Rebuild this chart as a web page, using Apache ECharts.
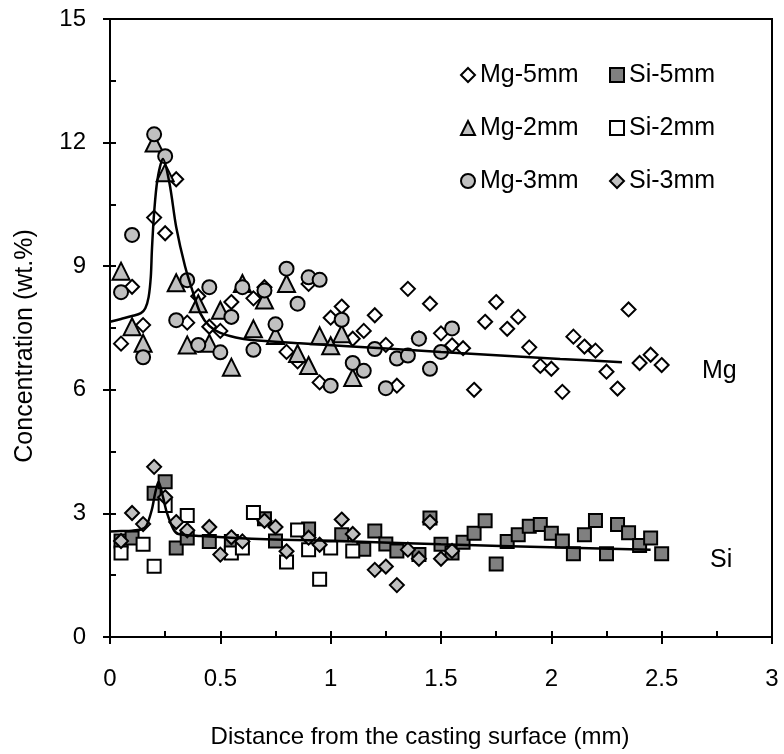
<!DOCTYPE html>
<html>
<head>
<meta charset="utf-8">
<script src="https://cdn.jsdelivr.net/npm/echarts@6/dist/echarts.min.js"></script>
<style>html,body{margin:0;padding:0;background:#fff}#c{width:784px;height:754px}</style>
</head>
<body>
<div id="c"></div>
<script>
// x ticks / y ticks
const xTicks = [0, 0.5, 1, 1.5, 2, 2.5, 3];
const yTicks = [0, 3, 6, 9, 12, 15];

// Mg series [distance mm, wt.%]
const mg5mm = [[0.05,7.12],[0.10,8.50],[0.15,7.57],[0.20,10.18],[0.25,9.80],[0.30,11.11],[0.35,7.63],[0.40,8.27],[0.45,7.53],[0.50,7.43],[0.55,8.13],[0.65,8.22],[0.70,8.49],[0.80,6.92],[0.85,6.69],[0.90,8.57],[0.95,6.18],[1.00,7.75],[1.05,8.02],[1.10,7.24],[1.15,7.43],[1.20,7.81],[1.25,7.09],[1.30,6.10],[1.35,8.45],[1.40,7.25],[1.45,8.09],[1.50,7.37],[1.55,7.08],[1.60,7.01],[1.65,6.00],[1.70,7.65],[1.75,8.13],[1.80,7.48],[1.85,7.77],[1.90,7.03],[1.95,6.58],[2.00,6.51],[2.05,5.95],[2.10,7.29],[2.15,7.05],[2.20,6.95],[2.25,6.44],[2.30,6.03],[2.35,7.95],[2.40,6.65],[2.45,6.85],[2.50,6.60]];
const mg2mm = [[0.05,8.88],[0.10,7.53],[0.15,7.13],[0.20,11.99],[0.25,11.27],[0.30,8.60],[0.35,7.09],[0.40,8.09],[0.45,7.13],[0.50,7.93],[0.55,6.55],[0.60,8.58],[0.65,7.48],[0.70,8.18],[0.75,7.32],[0.80,8.58],[0.85,6.88],[0.90,6.59],[0.95,7.31],[1.00,7.07],[1.05,7.36],[1.10,6.30]];
const mg3mm = [[0.05,8.37],[0.10,9.76],[0.15,6.79],[0.20,12.20],[0.25,11.67],[0.30,7.69],[0.35,8.66],[0.40,7.09],[0.45,8.49],[0.50,6.91],[0.55,7.77],[0.60,8.49],[0.65,6.97],[0.70,8.41],[0.75,7.59],[0.80,8.94],[0.85,8.09],[0.90,8.73],[0.95,8.67],[1.00,6.10],[1.05,7.70],[1.10,6.65],[1.15,6.46],[1.20,6.99],[1.25,6.04],[1.30,6.76],[1.35,6.83],[1.40,7.24],[1.45,6.51],[1.50,6.92],[1.55,7.49]];
const mgFit = [[0,7.65],[0.05,7.72],[0.10,7.79],[0.14,7.86],[0.16,7.98],[0.175,8.25],[0.185,8.75],[0.19,9.4],[0.20,10.3],[0.215,11.1],[0.24,11.6],[0.27,11.0],[0.30,9.95],[0.34,9.0],[0.38,8.3],[0.41,7.85],[0.45,7.55],[0.50,7.38],[0.57,7.27],[0.64,7.21],[0.86,7.13],[1.04,7.07],[1.5,6.92],[2.04,6.75],[2.32,6.67]];

// Si series
const si5mm = [[0.05,2.33],[0.10,2.40],[0.20,3.49],[0.25,3.77],[0.30,2.16],[0.35,2.40],[0.45,2.32],[0.55,2.32],[0.70,2.87],[0.75,2.33],[0.90,2.62],[1.05,2.48],[1.15,2.13],[1.20,2.57],[1.25,2.26],[1.30,2.09],[1.40,2.00],[1.45,2.89],[1.50,2.25],[1.55,2.04],[1.60,2.30],[1.65,2.52],[1.70,2.82],[1.75,1.77],[1.80,2.32],[1.85,2.48],[1.90,2.69],[1.95,2.73],[2.00,2.52],[2.05,2.33],[2.10,2.02],[2.15,2.48],[2.20,2.83],[2.25,2.02],[2.30,2.73],[2.35,2.53],[2.40,2.22],[2.45,2.40],[2.50,2.02]];
const si2mm = [[0.05,2.04],[0.15,2.25],[0.20,1.72],[0.25,3.19],[0.35,2.95],[0.55,2.04],[0.60,2.16],[0.65,3.02],[0.80,1.82],[0.85,2.60],[0.90,2.12],[0.95,1.40],[1.00,2.16],[1.10,2.09]];
const si3mm = [[0.05,2.33],[0.10,3.01],[0.15,2.74],[0.20,4.13],[0.25,3.39],[0.30,2.79],[0.35,2.59],[0.45,2.67],[0.50,2.00],[0.55,2.42],[0.60,2.32],[0.70,2.82],[0.75,2.67],[0.80,2.08],[0.90,2.41],[0.95,2.24],[1.05,2.85],[1.10,2.50],[1.20,1.63],[1.25,1.71],[1.30,1.26],[1.35,2.12],[1.40,1.90],[1.45,2.79],[1.50,1.90],[1.55,2.09]];
const siFit = [[0,2.56],[0.05,2.57],[0.10,2.58],[0.14,2.61],[0.165,2.7],[0.19,3.1],[0.205,3.5],[0.22,3.77],[0.24,3.4],[0.257,3.03],[0.287,2.62],[0.31,2.5],[0.41,2.45],[0.71,2.37],[1.04,2.33],[1.5,2.25],[2.04,2.17],[2.45,2.12]];

const FONT = 'Liberation Sans, Arial, sans-serif';
const chart = echarts.init(document.getElementById('c'), null, {renderer: 'canvas'});

function sc(name, data, symbol, size, fill, z) {
  return {
    name, type: 'scatter', data, symbol, symbolSize: size, z,
    itemStyle: {color: fill, borderColor: '#000', borderWidth: 2, opacity: 1},
    emphasis: {disabled: true}, animation: false
  };
}
function fit(data) {
  return {type: 'line', data, symbol: 'none', smooth: 0.3, z: 10,
    lineStyle: {color: '#000', width: 2.5}, animation: false, silent: true};
}

const axisCommon = {
  min: 0, axisLine: {show: true, lineStyle: {color: '#000', width: 2}},
  splitLine: {show: false}
};

chart.setOption({
  animation: false,
  backgroundColor: '#fff',
  grid: {left: 110, right: 12, top: 19, bottom: 107, show: true, borderColor: '#000', borderWidth: 2},
  textStyle: {fontFamily: FONT},
  legend: [
    {orient: 'vertical', left: 460, top: 60, padding: 0, itemWidth: 14, itemHeight: 14, itemGap: 23,
     data: ['Mg-5mm', 'Mg-2mm', 'Mg-3mm'],
     textStyle: {fontFamily: FONT, fontSize: 25, color: '#000', lineHeight: 30}},
    {orient: 'vertical', left: 609, top: 60, padding: 0, itemWidth: 14, itemHeight: 14, itemGap: 23,
     data: ['Si-5mm', 'Si-2mm', 'Si-3mm'],
     textStyle: {fontFamily: FONT, fontSize: 25, color: '#000', lineHeight: 30}}
  ],
  xAxis: [
    Object.assign({}, axisCommon, {
      type: 'value', position: 'bottom', max: xTicks[xTicks.length - 1], interval: 0.5,
      axisTick: {show: true, inside: false, length: 7, lineStyle: {color: '#000', width: 2}},
      axisLabel: {color: '#000', fontSize: 24, fontFamily: FONT, margin: 30,
        formatter: v => xTicks.includes(v) ? String(v) : ''},
      name: 'Distance from the casting surface (mm)', nameLocation: 'middle', nameGap: 88,
      nameTextStyle: {color: '#000', fontSize: 24, fontFamily: FONT, padding: [0, 42, 0, 0]}
    }),
    Object.assign({}, axisCommon, {
      type: 'value', position: 'bottom', max: 3, interval: 0.5,
      axisTick: {show: true, inside: true, length: 6, lineStyle: {color: '#000', width: 2}},
      minorTick: {show: true, splitNumber: 2, length: 6, lineStyle: {color: '#000', width: 2}},
      axisLabel: {show: false}
    })
  ],
  yAxis: [
    Object.assign({}, axisCommon, {
      type: 'value', position: 'left', max: yTicks[yTicks.length - 1], interval: 3,
      axisTick: {show: true, inside: false, length: 7, lineStyle: {color: '#000', width: 2}},
      axisLabel: {color: '#000', fontSize: 24, fontFamily: FONT, margin: 24,
        formatter: v => yTicks.includes(v) ? String(v) : ''},
      name: 'Concentration (wt.%)', nameLocation: 'middle', nameGap: 72, nameRotate: 90,
      nameTextStyle: {color: '#000', fontSize: 25, fontFamily: FONT, padding: [0, 36, 0, 0]}
    }),
    Object.assign({}, axisCommon, {
      type: 'value', position: 'left', max: 15, interval: 3,
      axisTick: {show: true, inside: true, length: 6, lineStyle: {color: '#000', width: 2}},
      minorTick: {show: true, splitNumber: 2, length: 6, lineStyle: {color: '#000', width: 2}},
      axisLabel: {show: false}
    })
  ],
  graphic: [
    {type: 'text', left: 702, top: 359, style: {text: 'Mg', font: '25px ' + FONT, fill: '#000'}},
    {type: 'text', left: 710, top: 548, style: {text: 'Si', font: '25px ' + FONT, fill: '#000'}}
  ],
  series: [
    sc('Mg-5mm', mg5mm, 'diamond', 14, '#ffffff', 2),
    sc('Mg-2mm', mg2mm, 'triangle', 17, '#c0c0c0', 3),
    sc('Mg-3mm', mg3mm, 'circle', 14, '#c0c0c0', 4),
    sc('Si-5mm', si5mm, 'rect', 13, '#808080', 2),
    sc('Si-2mm', si2mm, 'rect', 13, '#ffffff', 3),
    sc('Si-3mm', si3mm, 'diamond', 14, '#c0c0c0', 4),
    fit(mgFit),
    fit(siFit)
  ]
});
</script>
</body>
</html>
